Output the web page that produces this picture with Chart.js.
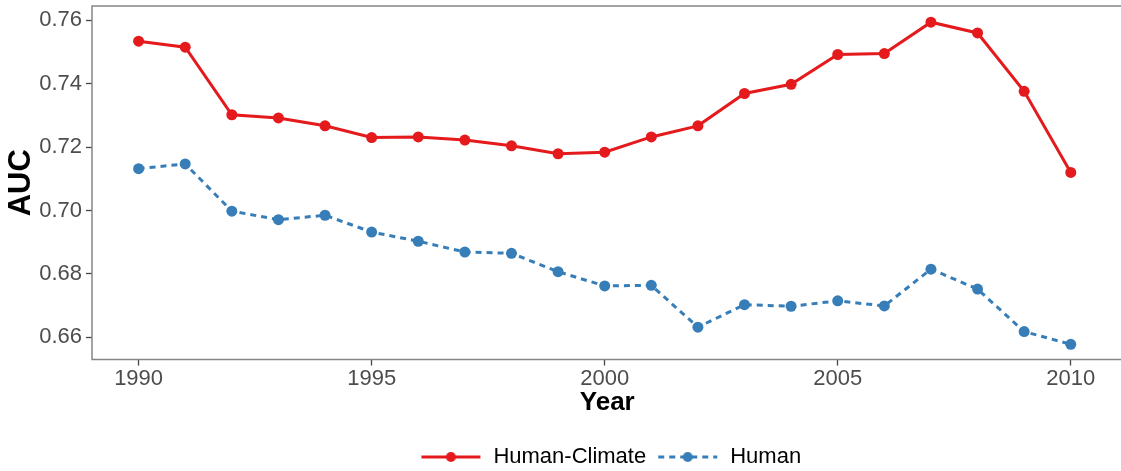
<!DOCTYPE html>
<html>
<head>
<meta charset="utf-8">
<script src="https://cdn.jsdelivr.net/npm/chart.js@4.4.1/dist/chart.umd.min.js"></script>
<style>
  html, body { margin: 0; padding: 0; overflow: hidden; background: #ffffff; }
  #wrap { width: 1128px; height: 478px; }
</style>
</head>
<body>
<div id="wrap"><canvas id="auc" width="1128" height="478"></canvas></div>
<script>
// Yearly AUC of the two model variants
const years = [1990, 1991, 1992, 1993, 1994, 1995, 1996, 1997, 1998, 1999, 2000,
               2001, 2002, 2003, 2004, 2005, 2006, 2007, 2008, 2009, 2010];
const humanClimate = [0.7534, 0.7515, 0.7302, 0.7292, 0.7267, 0.7230, 0.7232, 0.7222, 0.7204, 0.7179, 0.7184,
                      0.7232, 0.7267, 0.7369, 0.7398, 0.7492, 0.7495, 0.7594, 0.7560, 0.7376, 0.7120];
const human = [0.7132, 0.7147, 0.6998, 0.6971, 0.6985, 0.6932, 0.6903, 0.6869, 0.6865, 0.6807, 0.6762,
               0.6764, 0.6632, 0.6703, 0.6698, 0.6715, 0.6699, 0.6815, 0.6752, 0.6618, 0.6578];

const seriesNames = ['Human-Climate', 'Human'];
const seriesColors = ['#E41A1C', '#377EB8'];
const xTicks = [1990, 1995, 2000, 2005, 2010];
const yTicks = [0.66, 0.68, 0.70, 0.72, 0.74, 0.76];

const FONT = "'Liberation Sans', Arial, Helvetica, sans-serif";
const DASH = [6, 5];

// Legend key: a short line segment with a dot in the middle
function legendKey(color, dashed) {
  const c = document.createElement('canvas');
  c.width = 69; c.height = 22;
  const g = c.getContext('2d');
  g.strokeStyle = color;
  g.lineWidth = 3;
  if (dashed) g.setLineDash(DASH);
  g.beginPath(); g.moveTo(8, 11); g.lineTo(67, 11); g.stroke();
  g.setLineDash([]);
  g.fillStyle = color;
  g.beginPath(); g.arc(37.5, 11, 5, 0, Math.PI * 2); g.fill();
  return c;
}
const keys = [legendKey(seriesColors[0], false), legendKey(seriesColors[1], true)];

// Panel frame around the plotting area
const panelBorder = {
  id: 'panelBorder',
  beforeDatasetsDraw(chart) {
    const a = chart.chartArea, ctx = chart.ctx;
    ctx.save();
    ctx.strokeStyle = '#858585';
    ctx.lineWidth = 1.5;
    ctx.strokeRect(a.left, a.top, a.right - a.left, a.bottom - a.top);
    ctx.restore();
  }
};

const toPoints = vals => years.map((y, i) => ({ x: y, y: vals[i] }));

new Chart(document.getElementById('auc'), {
  type: 'line',
  data: {
    datasets: [
      {
        label: seriesNames[0],
        data: toPoints(humanClimate),
        borderColor: seriesColors[0],
        backgroundColor: seriesColors[0],
        borderWidth: 3,
        pointRadius: 5.5,
        pointBorderWidth: 0,
        pointBackgroundColor: seriesColors[0],
        tension: 0
      },
      {
        label: seriesNames[1],
        data: toPoints(human),
        borderColor: seriesColors[1],
        backgroundColor: seriesColors[1],
        borderWidth: 3,
        borderDash: DASH,
        pointRadius: 5.5,
        pointBorderWidth: 0,
        pointBackgroundColor: seriesColors[1],
        tension: 0
      }
    ]
  },
  options: {
    responsive: false,
    animation: false,
    devicePixelRatio: 1,
    layout: { padding: { top: 6, left: 0, right: 0, bottom: 0 } },
    plugins: {
      tooltip: { enabled: false },
      legend: {
        position: 'bottom',
        fullSize: false,
        labels: {
          usePointStyle: true,
          pointStyleWidth: 69,
          padding: 4,
          color: '#000000',
          font: { family: FONT, size: 22 },
          generateLabels: () => seriesNames.map((name, i) => ({
            text: name,
            pointStyle: keys[i],
            fillStyle: seriesColors[i],
            strokeStyle: seriesColors[i],
            lineWidth: 0,
            hidden: false,
            datasetIndex: i,
            fontColor: '#000000'
          }))
        }
      }
    },
    scales: {
      x: {
        type: 'linear',
        min: 1989,
        max: 2011.11,
        afterBuildTicks: s => { s.ticks = xTicks.map(v => ({ value: v })); },
        afterFit: s => { s.height = 82.5; s.paddingLeft = 0; s.paddingRight = 0; },
        border: { display: false },
        grid: { display: true, drawOnChartArea: false, drawTicks: true, tickLength: 6, tickColor: '#444444', tickWidth: 1.3 },
        ticks: {
          padding: 2,
          color: '#4D4D4D',
          font: { family: FONT, size: 22, lineHeight: 1 },
          maxRotation: 0,
          callback: v => String(v)
        },
        title: {
          display: true,
          text: 'Year',
          color: '#000000',
          font: { family: FONT, size: 26, weight: 'bold', lineHeight: 1.2 },
          padding: { top: 0, bottom: 24 }
        }
      },
      y: {
        type: 'linear',
        min: 0.6530,
        max: 0.7645,
        afterBuildTicks: s => { s.ticks = yTicks.map(v => ({ value: v })); },
        afterFit: s => { s.width = 92; s.paddingTop = 0; s.paddingBottom = 0; },
        border: { display: false },
        grid: { display: true, drawOnChartArea: false, drawTicks: true, tickLength: 6, tickColor: '#444444', tickWidth: 1.3 },
        ticks: {
          padding: 4,
          color: '#4D4D4D',
          font: { family: FONT, size: 22 },
          callback: v => v.toFixed(2)
        },
        title: {
          display: true,
          text: 'AUC',
          color: '#000000',
          font: { family: FONT, size: 31, weight: 'bold', lineHeight: 1.2 },
          padding: { top: 3, bottom: 0 }
        }
      }
    }
  },
  plugins: [panelBorder]
});
</script>
</body>
</html>
